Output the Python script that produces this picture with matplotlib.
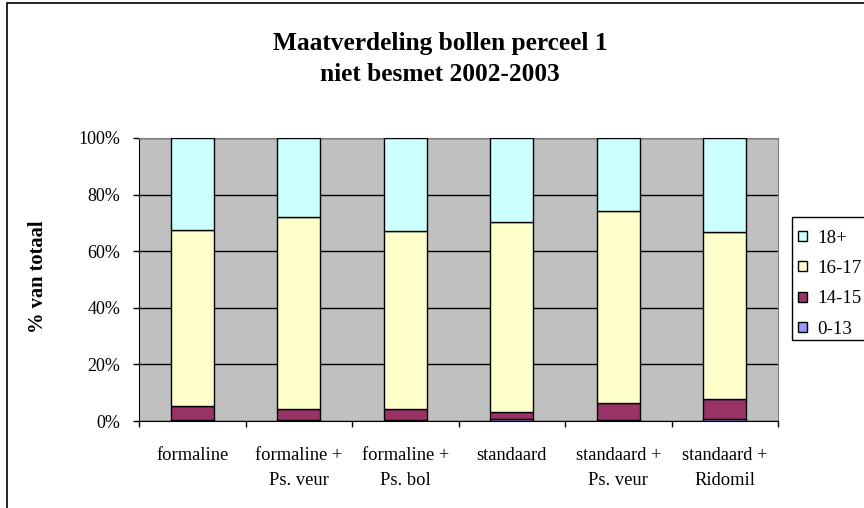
import matplotlib
matplotlib.use("Agg")
import matplotlib.pyplot as plt
import numpy as np
from matplotlib.patches import Rectangle

# categories and percentages per size class
categories = ["formaline", "formaline +\nPs. veur", "formaline +\nPs. bol",
              "standaard", "standaard +\nPs. veur", "standaard +\nRidomil"]
size_0_13 = [0.2, 0.3, 0.2, 0.7, 0.2, 0.6]
size_14_15 = [5.1, 4.0, 4.1, 2.6, 6.1, 7.1]
size_16_17 = [62.3, 67.7, 62.8, 66.9, 67.9, 59.1]
size_18 = [32.4, 28.0, 32.9, 29.8, 25.8, 33.2]

series = [("0-13", size_0_13, "#9999FF"),
          ("14-15", size_14_15, "#993366"),
          ("16-17", size_16_17, "#FFFFCC"),
          ("18+", size_18, "#CCFFFF")]

plt.rcParams['font.family'] = ['Liberation Serif', 'DejaVu Serif']

fig = plt.figure(figsize=(8.64, 5.08), dpi=100)
ax = fig.add_axes([139 / 864, 1 - 421 / 508, (778 - 139) / 864, (421 - 138) / 508])

x = np.arange(len(categories))
bottom = np.zeros(len(categories))
handles = []
for name, vals, col in series:
    vals = np.array(vals)
    b = ax.bar(x, vals, width=0.4, bottom=bottom, color=col,
               edgecolor="black", linewidth=1, label=name, zorder=3)
    handles.append(b)
    bottom += vals

ax.set_facecolor("#C0C0C0")
ax.set_xlim(-0.5, len(categories) - 0.5)
ax.set_ylim(0, 100)
ax.set_yticks(np.arange(0, 101, 20))
ax.set_yticklabels([f"{v}%" for v in range(0, 101, 20)], fontsize=13)
ax.yaxis.grid(True, color="black", linewidth=1, zorder=0)
ax.set_axisbelow(True)

ax.set_xticks(x)
ax.set_xticklabels(categories, fontsize=13.3, linespacing=1.62)
ax.tick_params(axis="x", which="major", length=0, pad=19)
ax.set_xticks(np.arange(-0.5, len(categories), 1), minor=True)
ax.tick_params(axis="x", which="minor", length=4.3, width=1, direction="out")
ax.tick_params(axis="y", length=4.3, width=1, direction="out", pad=9)

for side in ["top", "right"]:
    ax.spines[side].set_color("#808080")
for side in ["left", "bottom"]:
    ax.spines[side].set_color("black")

fig.text(38 / 864, 1 - 277 / 508, "% van totaal", rotation=90, fontsize=14.8,
         fontweight="bold", ha="center", va="center")
fig.text(440 / 864, 1 - 59 / 508, "Maatverdeling bollen perceel 1\nniet besmet 2002-2003",
         fontsize=18.3, fontweight="bold", ha="center", va="center", linespacing=1.42)

# legend entries without frame, box drawn separately (runs off the right edge)
leg = fig.legend(handles[::-1], [s[0] for s in series][::-1],
                 loc="upper left", bbox_to_anchor=(790.5 / 864, 1 - 222 / 508),
                 fontsize=13.6, frameon=False, handlelength=0.45,
                 handleheight=0.45, handletextpad=0.55, labelspacing=0.71,
                 borderpad=0.4, borderaxespad=0)
fig.patches.append(Rectangle((792 / 864, 1 - 340 / 508), 0.2, (340 - 217) / 508,
                             transform=fig.transFigure, fill=False,
                             edgecolor="black", linewidth=1))

# outer chart frame
fig.patches.append(Rectangle((7 / 864, -0.05), 1.0, 1 - 3 / 508 + 0.05,
                             transform=fig.transFigure, fill=False,
                             edgecolor="black", linewidth=1.2))

fig.savefig("out.png", dpi=100)
